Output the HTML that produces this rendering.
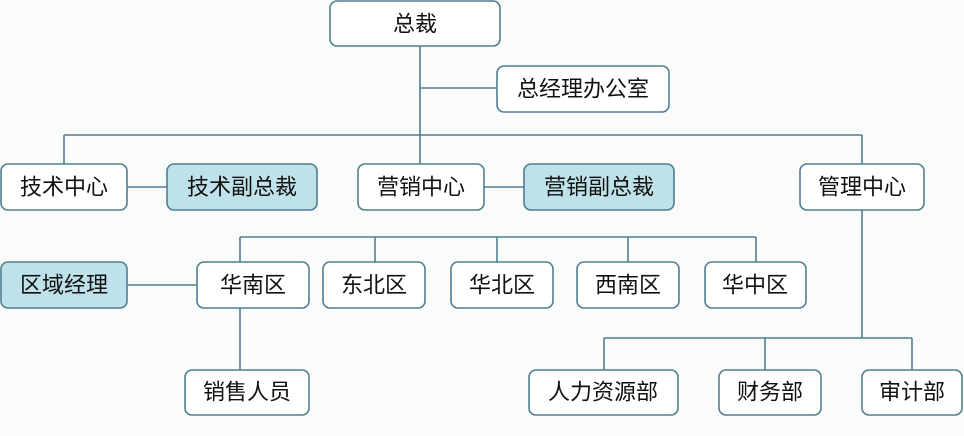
<!DOCTYPE html>
<html><head><meta charset="utf-8"><style>
body{margin:0;background:#fafbfb;}
svg{display:block}
text{font-family:"Liberation Sans","Noto Sans CJK SC",sans-serif;font-size:22px;fill:#111;text-anchor:middle;dominant-baseline:central}
rect{fill:#fff;stroke:#4f7f8e;stroke-width:1.6}
rect.f{fill:#bfe2ea}
line{stroke:#4f7f8e;stroke-width:1.6}
</style></head><body>
<svg width="964" height="436" viewBox="0 0 964 436">
<line x1="420" y1="46" x2="420" y2="135"/>
<line x1="420" y1="88" x2="497" y2="88"/>
<line x1="64" y1="135" x2="862" y2="135"/>
<line x1="64" y1="135" x2="64" y2="164"/>
<line x1="420" y1="135" x2="420" y2="164"/>
<line x1="862" y1="135" x2="862" y2="338"/>
<line x1="127" y1="187" x2="167" y2="187"/>
<line x1="484" y1="187" x2="524" y2="187"/>
<line x1="240" y1="237" x2="756" y2="237"/>
<line x1="240" y1="237" x2="240" y2="370"/>
<line x1="375" y1="237" x2="375" y2="262"/>
<line x1="497" y1="237" x2="497" y2="262"/>
<line x1="628" y1="237" x2="628" y2="262"/>
<line x1="756" y1="237" x2="756" y2="262"/>
<line x1="127" y1="285" x2="197" y2="285"/>
<line x1="604" y1="338" x2="912" y2="338"/>
<line x1="604" y1="338" x2="604" y2="370"/>
<line x1="765" y1="338" x2="765" y2="370"/>
<line x1="912" y1="338" x2="912" y2="370"/>

<rect x="330" y="1" width="170" height="45" rx="7"/><text x="415" y="24">总裁</text>
<rect x="497" y="66" width="172" height="46" rx="7"/><text x="583" y="89">总经理办公室</text>
<rect x="1" y="164" width="126" height="46" rx="7"/><text x="64" y="187">技术中心</text>
<rect class="f" x="167" y="164" width="150" height="46" rx="7"/><text x="242" y="187">技术副总裁</text>
<rect x="358" y="164" width="126" height="46" rx="7"/><text x="421" y="187">营销中心</text>
<rect class="f" x="524" y="164" width="150" height="46" rx="7"/><text x="599" y="187">营销副总裁</text>
<rect x="800" y="164" width="124" height="46" rx="7"/><text x="862" y="187">管理中心</text>
<rect class="f" x="1" y="262" width="126" height="46" rx="7"/><text x="64" y="285">区域经理</text>
<rect x="197" y="262" width="112" height="46" rx="7"/><text x="253" y="285">华南区</text>
<rect x="323" y="262" width="102" height="46" rx="7"/><text x="374" y="285">东北区</text>
<rect x="451" y="262" width="102" height="46" rx="7"/><text x="502" y="285">华北区</text>
<rect x="577" y="262" width="102" height="46" rx="7"/><text x="628" y="285">西南区</text>
<rect x="705" y="262" width="101" height="46" rx="7"/><text x="755" y="285">华中区</text>
<rect x="185" y="370" width="124" height="45" rx="7"/><text x="247" y="392">销售人员</text>
<rect x="529" y="370" width="149" height="45" rx="7"/><text x="603" y="392">人力资源部</text>
<rect x="719" y="370" width="102" height="45" rx="7"/><text x="770" y="392">财务部</text>
<rect x="862" y="370" width="100" height="45" rx="7"/><text x="912" y="392">审计部</text>
</svg>
</body></html>
